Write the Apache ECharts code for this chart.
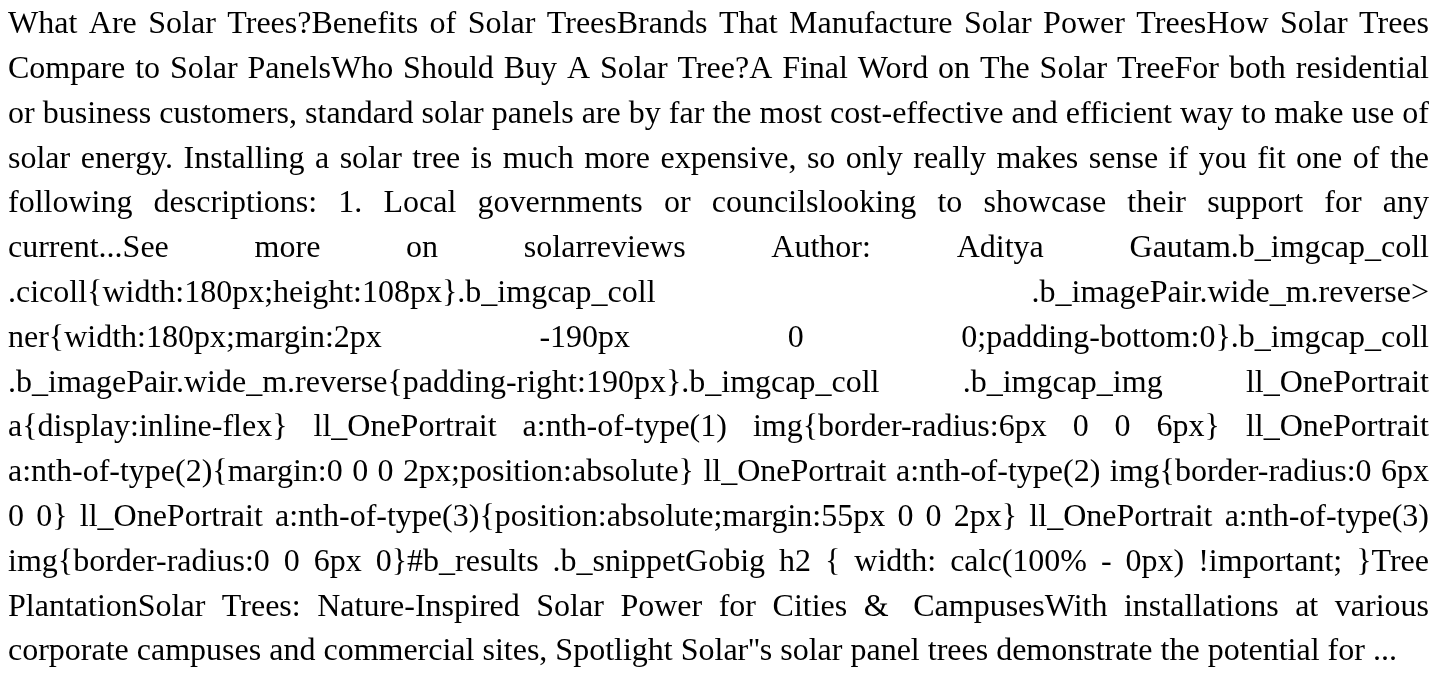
<!DOCTYPE html>
<html>
<head>
<meta charset="utf-8">
<script src="https://cdn.jsdelivr.net/npm/echarts@6/dist/echarts.min.js"></script>
<style>
html,body{margin:0;padding:0;background:#fff;}
#chart{width:1448px;height:675px;}
</style>
</head>
<body>
<div id="chart"></div>
<script>
// Text content, one entry per rendered line (justified paragraph)
var lines = [
  "What Are Solar Trees?Benefits of Solar TreesBrands That Manufacture Solar Power TreesHow Solar Trees",
  "Compare to Solar PanelsWho Should Buy A Solar Tree?A Final Word on The Solar TreeFor both residential",
  "or business customers, standard solar panels are by far the most cost-effective and efficient way to make use of",
  "solar energy. Installing a solar tree is much more expensive, so only really makes sense if you fit one of the",
  "following descriptions: 1. Local governments or councilslooking to showcase their support for any",
  "current...See more on solarreviews Author: Aditya Gautam.b_imgcap_coll",
  ".cicoll{width:180px;height:108px}.b_imgcap_coll .b_imagePair.wide_m.reverse>",
  "ner{width:180px;margin:2px -190px 0 0;padding-bottom:0}.b_imgcap_coll",
  ".b_imagePair.wide_m.reverse{padding-right:190px}.b_imgcap_coll .b_imgcap_img ll_OnePortrait",
  "a{display:inline-flex} ll_OnePortrait a:nth-of-type(1) img{border-radius:6px 0 0 6px} ll_OnePortrait",
  "a:nth-of-type(2){margin:0 0 0 2px;position:absolute} ll_OnePortrait a:nth-of-type(2) img{border-radius:0 6px",
  "0 0} ll_OnePortrait a:nth-of-type(3){position:absolute;margin:55px 0 0 2px} ll_OnePortrait a:nth-of-type(3)",
  "img{border-radius:0 0 6px 0}#b_results .b_snippetGobig h2 { width: calc(100% - 0px) !important; }Tree",
  "PlantationSolar Trees: Nature-Inspired Solar Power for Cities &\u00a0 CampusesWith installations at various",
  "corporate campuses and commercial sites, Spotlight Solar''s solar panel trees demonstrate the potential for ..."
];

var FONT_SIZE = 32;
var FONT_FAMILY = "'Liberation Serif', 'Times New Roman', serif";
var LEFT = 8, RIGHT = 1429;
var FIRST_BASELINE = 35, LINE_STEP = 44.8;
var MIDDLE_TO_BASELINE = 10.3;

var chart = echarts.init(document.getElementById('chart'), null, {renderer: 'canvas'});
var ctx = document.createElement('canvas').getContext('2d');
ctx.font = FONT_SIZE + 'px ' + FONT_FAMILY;
var spaceW = ctx.measureText(' ').width;

var elements = [];
lines.forEach(function (line, li) {
  var words = line.split(' ');
  var widths = words.map(function (w) { return ctx.measureText(w).width; });
  var total = widths.reduce(function (a, b) { return a + b; }, 0);
  var isLast = li === lines.length - 1;
  var gap = (isLast || words.length < 2) ? spaceW : (RIGHT - LEFT - total) / (words.length - 1);
  var x = LEFT;
  var y = FIRST_BASELINE + li * LINE_STEP - MIDDLE_TO_BASELINE;
  words.forEach(function (w, wi) {
    elements.push({
      type: 'text',
      x: x,
      y: y,
      silent: true,
      style: {
        text: w,
        fill: '#000',
        fontSize: FONT_SIZE,
        fontFamily: FONT_FAMILY,
        textAlign: 'left',
        textVerticalAlign: 'middle'
      }
    });
    x += widths[wi] + gap;
  });
});

chart.setOption({
  backgroundColor: '#fff',
  animation: false,
  graphic: {elements: elements}
});
</script>
</body>
</html>
